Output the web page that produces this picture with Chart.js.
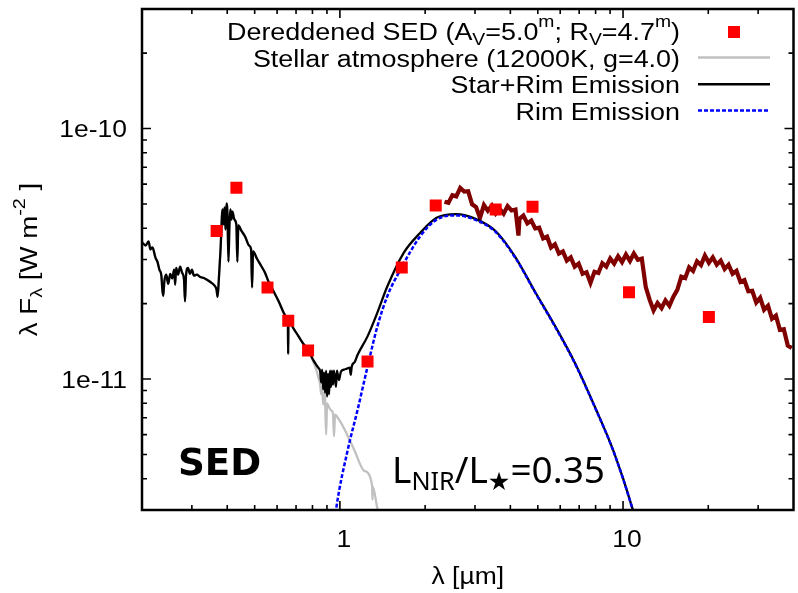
<!DOCTYPE html>
<html>
<head>
<meta charset="utf-8">
<script src="https://cdn.jsdelivr.net/npm/chart.js@4.4.1/dist/chart.umd.min.js"></script>
<style>
  html, body { margin: 0; padding: 0; overflow: hidden; background: #fff; }
  #wrap { width: 802px; height: 593px; position: relative; }
</style>
</head>
<body>
<div id="wrap"><canvas id="sed"></canvas></div>
<script>
// Wavelengths in micron; fluxes (lambda F_lambda) in units of 1e-11 W m^-2.
const FLUX_UNIT = 1e-11;

// Dereddened photometry
const photLambda = [0.367, 0.431, 0.555, 0.657, 0.772, 1.252, 1.654, 2.18, 3.55, 4.79, 10.5, 20.1];
const photFlux   = [3.90, 5.80, 2.32, 1.71, 1.30, 1.175, 2.79, 4.93, 4.75, 4.87, 2.22, 1.77];

// Stellar atmosphere model (12000 K, log g = 4.0)
const starLambda = [0.2010, 0.2059, 0.2109, 0.2143, 0.2178, 0.2231, 0.2267, 0.2304, 0.2341, 0.2360,
  0.2378, 0.2398, 0.2436, 0.2475, 0.2516, 0.2557, 0.2598, 0.2619, 0.2640, 0.2683,
  0.2726, 0.2770, 0.2815, 0.2838, 0.2861, 0.2907, 0.2954, 0.3002, 0.3050, 0.3125,
  0.3201, 0.3332, 0.3467, 0.3609, 0.3667, 0.3697, 0.3727, 0.3788, 0.3850, 0.3881,
  0.3912, 0.3944, 0.3975, 0.4008, 0.4040, 0.4073, 0.4105, 0.4139, 0.4172, 0.4240,
  0.4308, 0.4343, 0.4378, 0.4485, 0.4629, 0.4779, 0.4857, 0.4896, 0.4935, 0.5095,
  0.5262, 0.5434, 0.5612, 0.5842, 0.6081, 0.6330, 0.6484, 0.6550, 0.6565, 0.6580,
  0.6862, 0.7142, 0.7434, 0.7738, 0.8054, 0.8250, 0.8383, 0.8518, 0.8587, 0.8657,
  0.8726, 0.8797, 0.8866, 0.8939, 0.9010, 0.9156, 0.9303, 0.9454, 0.9530, 0.9610,
  0.9920, 1.038, 1.083, 1.125, 1.219, 1.300, 1.303, 1.306, 1.356, 1.42];
const starFlux = [3.50, 3.41, 3.54, 3.29, 3.35, 3.05, 2.94, 2.73, 2.59, 2.27,
  2.15, 2.45, 2.61, 2.40, 2.63, 2.52, 2.73, 2.38, 2.78, 2.61,
  2.81, 2.66, 2.49, 2.04, 2.59, 2.78, 2.63, 2.73, 2.59, 2.61,
  2.56, 2.52, 2.45, 2.36, 2.27, 2.13, 2.38, 3.29, 4.75, 4.14,
  4.84, 3.95, 5.02, 4.53, 2.94, 4.14, 4.75, 4.33, 4.66, 4.33,
  4.14, 2.94, 4.10, 3.91, 3.70, 3.41, 3.29, 2.32, 3.23, 3.02,
  2.84, 2.66, 2.43, 2.23, 2.04, 1.84, 1.76, 1.71, 1.26, 1.70,
  1.59, 1.48, 1.38, 1.30, 1.17, 1.09, 1.02, 0.95, 0.87, 0.93,
  0.79, 0.88, 0.83, 0.60, 0.80, 0.77, 0.75, 0.73, 0.59, 0.72,
  0.69, 0.63, 0.57, 0.52, 0.43, 0.375, 0.33, 0.372, 0.305, 0.26];

// Star + rim model beyond the point where the rim starts to contribute
const modelTailLambda = [0.8054, 0.8250, 0.8383, 0.8518, 0.8587, 0.8657, 0.8726, 0.8797, 0.8866, 0.8939,
  0.9010, 0.9083, 0.9156, 0.9230, 0.9303, 0.9378, 0.9454, 0.9530, 0.9685, 0.9761,
  0.9920, 1.008, 1.033, 1.058, 1.083, 1.092, 1.101, 1.128, 1.155, 1.252,
  1.356, 1.47, 1.68, 1.92, 2.195, 2.577, 3.026, 3.552, 4.17, 4.90,
  5.75, 6.75, 7.93, 9.30, 10.78, 11.2];
const modelTailFlux = [1.19, 1.14, 1.11, 1.07, 0.97, 1.09, 0.91, 1.06, 0.88, 1.08,
  0.85, 1.05, 0.87, 1.08, 0.93, 1.08, 0.95, 1.08, 0.93, 1.08,
  0.99, 1.07, 1.09, 1.10, 1.11, 1.04, 1.12, 1.17, 1.25, 1.48,
  1.84, 2.34, 3.19, 3.83, 4.40, 4.55, 4.35, 3.89, 3.06, 2.22,
  1.63, 1.165, 0.78, 0.508, 0.306, 0.26];

// Inner rim emission
const rimLambda = [0.955, 0.971, 1.066, 1.155, 1.252, 1.356, 1.470, 1.635, 1.920, 2.195,
  2.577, 3.026, 3.552, 4.17, 4.90, 5.75, 6.75, 7.93, 9.30, 10.78, 11.2];
const rimFlux = [0.26, 0.305, 0.522, 0.754, 1.12, 1.62, 2.14, 2.73, 3.71, 4.33,
  4.50, 4.31, 3.86, 3.04, 2.21, 1.62, 1.159, 0.777, 0.506, 0.305, 0.26];

// Mid-infrared spectrum
const specLambda = [2.341, 2.417, 2.496, 2.577, 2.661, 2.748, 2.838, 2.930, 3.026, 3.124,
  3.226, 3.331, 3.440, 3.552, 3.668, 3.787, 3.911, 4.038, 4.170, 4.272,
  4.306, 4.446, 4.592, 4.742, 4.897, 5.056, 5.222, 5.392, 5.568, 5.749,
  5.937, 6.131, 6.330, 6.537, 6.750, 6.970, 7.197, 7.432, 7.674, 7.925,
  8.183, 8.450, 8.726, 9.010, 9.303, 9.607, 9.920, 10.24, 10.58, 10.92,
  11.28, 11.65, 12.03, 12.42, 12.82, 13.24, 13.68, 14.12, 14.58, 15.06,
  15.55, 16.06, 16.58, 17.12, 17.68, 18.25, 18.85, 19.46, 20.10, 20.75,
  21.43, 22.13, 22.85, 23.59, 24.37, 25.16, 25.98, 26.83, 27.70, 28.60,
  29.54, 30.50, 31.49, 32.52, 33.58, 34.68, 35.81, 36.97, 38.18, 39.43];
const specFlux = [5.10, 5.05, 5.42, 5.36, 5.79, 5.60, 5.62, 4.98, 4.86, 4.40,
  4.95, 4.70, 4.92, 4.58, 4.78, 4.57, 4.90, 4.71, 4.75, 3.74,
  4.36, 4.49, 4.18, 4.29, 3.99, 4.02, 3.64, 3.70, 3.35, 3.45,
  3.17, 3.23, 2.97, 3.06, 2.81, 2.89, 2.63, 2.67, 2.42, 2.68,
  2.65, 2.90, 2.81, 3.03, 2.89, 3.09, 2.93, 3.14, 2.96, 3.17,
  2.99, 3.02, 2.33, 2.07, 1.88, 2.01, 1.92, 2.06, 1.96, 2.13,
  2.27, 2.56, 2.53, 2.79, 2.70, 2.95, 2.85, 3.11, 2.91, 3.06,
  2.86, 2.97, 2.75, 2.86, 2.63, 2.70, 2.44, 2.48, 2.24, 2.25,
  2.02, 2.11, 1.89, 1.96, 1.74, 1.79, 1.57, 1.58, 1.36, 1.33];

// Axis ranges and ticks
const xRange = [0.2, 40];
const yRange = [3e-12, 3e-10];
const xMajorTicks = [1, 10];
const xTickLabels = ['1', '10'];
const xMinorTicks = [0.3, 0.4, 0.5, 0.6, 0.7, 0.8, 0.9, 2, 3, 4, 5, 6, 7, 8, 9, 20, 30];
const yMajorTicks = [1e-11, 1e-10];
const yTickLabels = ['1e-11', '1e-10'];
const yMinorTicks = [4e-12, 5e-12, 6e-12, 7e-12, 8e-12, 9e-12,
  2e-11, 3e-11, 4e-11, 5e-11, 6e-11, 7e-11, 8e-11, 9e-11, 2e-10];

// Legend rows: rich-text segments [text, 0 normal | 1 superscript | -1 subscript]
const legendRows = [
  [['Dereddened SED (A', 0], ['V', -1], ['=5.0', 0], ['m', 1], ['; R', 0], ['V', -1], ['=4.7', 0], ['m', 1], [')', 0]],
  [['Stellar atmosphere (12000K, g=4.0)', 0]],
  [['Star+Rim Emission', 0]],
  [['Rim Emission', 0]]
];
const xTitle = [['\u03bb [\u00b5m]', 0]];
const yTitle = [['\u03bb F', 0], ['\u03bb', -1], [' [W m', 0], ['-2', 1], [' ]', 0]];
const panelLabel = 'SED';
const ratioLabel = [['L', 0], ['NIR', -1], ['/L', 0], ['\u2605', -1], ['=0.35', 0]];

const COLORS = {
  phot: '#ff0000',
  star: '#c0c0c0',
  model: '#000000',
  rim: '#0000ff',
  spec: '#800000'
};

function toPoints(lams, fluxes) {
  return lams.map((l, i) => ({ x: l, y: fluxes[i] * FLUX_UNIT }));
}

const nStarShared = starLambda.filter(l => l < 0.8).length;
const modelLambda = starLambda.slice(0, nStarShared).concat(modelTailLambda);
const modelFlux = starFlux.slice(0, nStarShared).concat(modelTailFlux);

const SANS = "'Liberation Sans', Arial, sans-serif";
const STRETCH = 1.15;

function drawRich(ctx, segs, x, y, o) {
  const small = o.small || 0.72;
  const fontFor = k => `${o.weight || 'normal'} ${k ? o.size * small : o.size}px ${o.family}`;
  let w = 0;
  for (const [t, k] of segs) { ctx.font = fontFor(k); w += ctx.measureText(t).width; }
  ctx.save();
  ctx.translate(x, y);
  if (o.rot) ctx.rotate(o.rot);
  ctx.scale(o.sx || 1, 1);
  let cx = o.align === 'right' ? -w : (o.align === 'center' ? -w / 2 : 0);
  ctx.textAlign = 'left';
  ctx.textBaseline = 'alphabetic';
  ctx.fillStyle = o.color || '#000';
  for (const [t, k] of segs) {
    ctx.font = fontFor(k);
    const dy = k === 1 ? -o.size * (o.up || 0.52) : (k === -1 ? o.size * (o.down || 0.22) : 0);
    ctx.fillText(t, cx, dy);
    cx += ctx.measureText(t).width;
  }
  ctx.restore();
}

const framePlugin = {
  id: 'frame',
  afterDraw(chart) {
    const ctx = chart.ctx;
    const a = chart.chartArea;
    const xs = chart.scales.x, ys = chart.scales.y;
    ctx.save();

    // inward tick marks on all four sides
    ctx.strokeStyle = '#000';
    ctx.lineWidth = 1.6;
    const xTick = (v, len) => {
      const p = xs.getPixelForValue(v);
      ctx.beginPath();
      ctx.moveTo(p, a.bottom); ctx.lineTo(p, a.bottom - len);
      ctx.moveTo(p, a.top); ctx.lineTo(p, a.top + len);
      ctx.stroke();
    };
    const yTick = (v, len) => {
      const p = ys.getPixelForValue(v);
      ctx.beginPath();
      ctx.moveTo(a.left, p); ctx.lineTo(a.left + len, p);
      ctx.moveTo(a.right, p); ctx.lineTo(a.right - len, p);
      ctx.stroke();
    };
    xMinorTicks.forEach(v => xTick(v, 5));
    xMajorTicks.forEach(v => xTick(v, 9));
    yMinorTicks.forEach(v => yTick(v, 5));
    yMajorTicks.forEach(v => yTick(v, 9));

    // plot frame
    ctx.lineWidth = 2.5;
    ctx.strokeRect(a.left, a.top, a.right - a.left, a.bottom - a.top);

    // tick labels
    xMajorTicks.forEach((v, i) => {
      drawRich(ctx, [[xTickLabels[i], 0]], xs.getPixelForValue(v) + 4, a.bottom + 37,
        { size: 23, family: SANS, align: 'center', sx: STRETCH });
    });
    yMajorTicks.forEach((v, i) => {
      drawRich(ctx, [[yTickLabels[i], 0]], a.left - 15, ys.getPixelForValue(v) + 8.5,
        { size: 23, family: SANS, align: 'right', sx: STRETCH });
    });

    // axis titles
    drawRich(ctx, xTitle, (a.left + a.right) / 2, a.bottom + 74,
      { size: 23, family: SANS, align: 'center', sx: STRETCH });
    drawRich(ctx, yTitle, 37, (a.top + a.bottom) / 2,
      { size: 23, family: SANS, align: 'center', rot: -Math.PI / 2, sx: 1.2 });

    // key
    const keyRight = 680, keyX0 = 698, keyX1 = 770;
    const rowBase = [40, 66.7, 93.3, 120];
    legendRows.forEach((segs, i) => {
      drawRich(ctx, segs, keyRight, rowBase[i],
        { size: 23, family: SANS, align: 'right', sx: 1.17, up: 0.55, down: 0.22 });
    });
    ctx.fillStyle = COLORS.phot;
    ctx.fillRect(734 - 6, 32 - 6, 12, 12);
    const keyLine = (y, color, dash) => {
      ctx.beginPath();
      ctx.strokeStyle = color;
      ctx.lineWidth = 2.5;
      ctx.setLineDash(dash);
      ctx.moveTo(keyX0, y); ctx.lineTo(keyX1, y);
      ctx.stroke();
      ctx.setLineDash([]);
    };
    keyLine(57.5, COLORS.star, []);
    keyLine(84.3, COLORS.model, []);
    keyLine(110.5, COLORS.rim, [4, 2]);

    // annotations
    drawRich(ctx, [[panelLabel, 0]], 178, 475,
      { size: 38, family: "'DejaVu Sans', sans-serif", weight: 'bold', align: 'left', sx: 0.98 });
    drawRich(ctx, ratioLabel, 392, 483,
      { size: 37, family: "'Noto Sans', 'DejaVu Sans', sans-serif", align: 'left', small: 0.68, down: 0.2 });

    ctx.restore();
  }
};

const smoothLine = { showLine: true, pointRadius: 0, cubicInterpolationMode: 'monotone', clip: 0 };

new Chart(document.getElementById('sed'), {
  type: 'scatter',
  data: {
    datasets: [
      {
        label: 'Dereddened SED',
        data: toPoints(photLambda, photFlux),
        showLine: false,
        pointStyle: 'rect',
        pointRadius: 8.5,
        pointBackgroundColor: COLORS.phot,
        pointBorderWidth: 0,
        order: 0
      },
      Object.assign({
        label: 'Rim Emission',
        data: toPoints(rimLambda, rimFlux),
        borderColor: COLORS.rim,
        borderWidth: 2.5,
        borderDash: [4, 2],
        order: 1
      }, smoothLine),
      Object.assign({
        label: 'Star+Rim Emission',
        data: toPoints(modelLambda, modelFlux),
        borderColor: COLORS.model,
        borderWidth: 2.3,
        order: 2
      }, smoothLine),
      Object.assign({
        label: 'Stellar atmosphere',
        data: toPoints(starLambda, starFlux),
        borderColor: COLORS.star,
        borderWidth: 2.3,
        order: 3
      }, smoothLine),
      {
        label: 'Spectrum',
        data: toPoints(specLambda, specFlux),
        showLine: true,
        borderColor: COLORS.spec,
        borderWidth: 4.2,
        borderJoinStyle: 'miter',
        pointRadius: 0,
        tension: 0,
        clip: 0,
        order: 4
      }
    ]
  },
  options: {
    responsive: true,
    maintainAspectRatio: false,
    animation: false,
    events: [],
    layout: { padding: { top: 9, right: 1, left: 0, bottom: 0 } },
    plugins: { legend: { display: false }, tooltip: { enabled: false } },
    scales: {
      x: {
        type: 'logarithmic',
        min: xRange[0], max: xRange[1],
        grid: { display: false },
        border: { display: false },
        ticks: { display: false },
        afterFit(scale) { scale.height = 83; }
      },
      y: {
        type: 'logarithmic',
        min: yRange[0], max: yRange[1],
        grid: { display: false },
        border: { display: false },
        ticks: { display: false },
        afterFit(scale) { scale.width = 142; }
      }
    }
  },
  plugins: [framePlugin]
});
</script>
</body>
</html>
